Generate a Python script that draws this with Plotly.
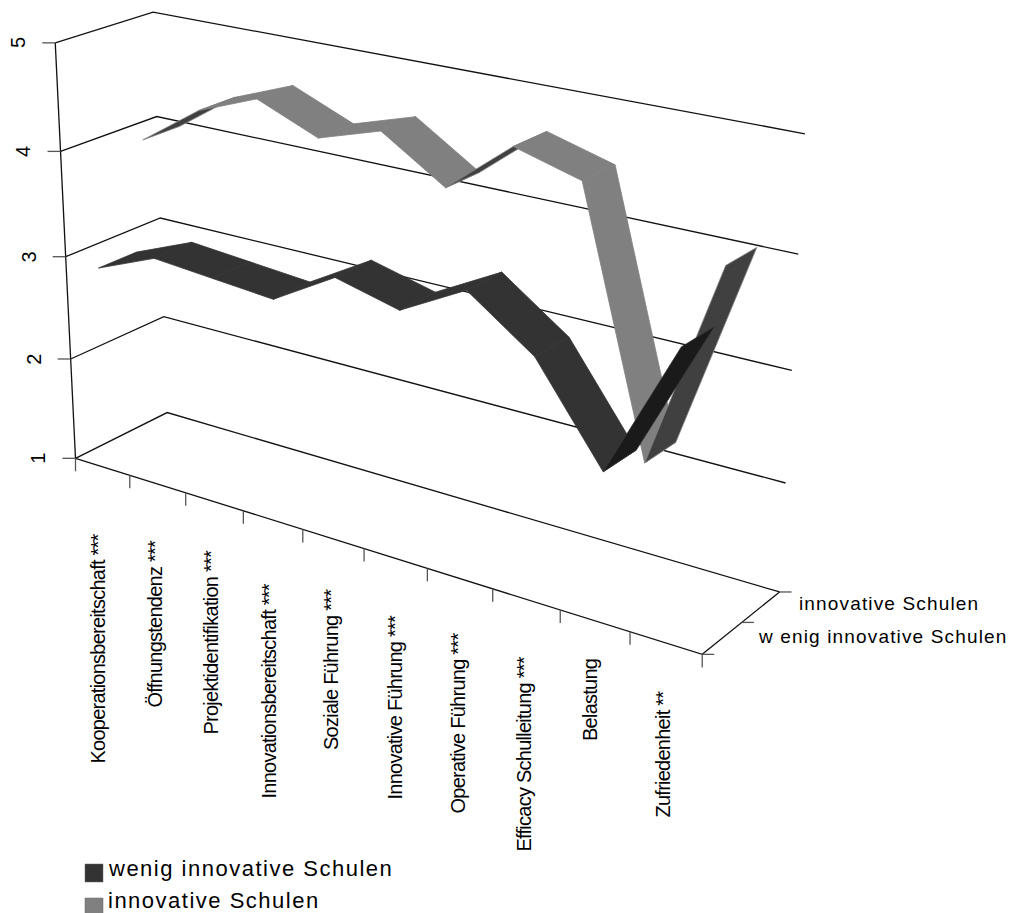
import numpy as np
import plotly.graph_objects as go

# Chart content
categories = ["Kooperationsbereitschaft ***", "Öffnungstendenz ***", "Projektidentifikation ***",
              "Innovationsbereitschaft ***", "Soziale Führung ***", "Innovative Führung ***",
              "Operative Führung ***", "Efficacy Schulleitung ***", "Belastung", "Zufriedenheit **"]
series_names = ["wenig innovative Schulen", "innovative Schulen"]
depth_labels = ["w enig innovative Schulen", "innovative Schulen"]
value_ticks = [1, 2, 3, 4, 5]
wenig_innovativ = [2.94, 3.17, 3.12, 3.07, 3.41, 3.26, 3.58, 3.15, 2.31, 3.54]
innovativ = [3.98, 4.37, 4.59, 4.35, 4.53, 4.15, 4.63, 4.46, 2.14, 4.01]

DARK = "#333333"
DARK_UNDER = "#1a1a1a"
LIGHT = "#808080"
LIGHT_UNDER = "#404040"
FONT = "Liberation Sans, Arial, sans-serif"

# Page placement of the rotated category labels
category_label_x = [97.5, 154.5, 210, 268, 330.5, 394, 457, 523, 590, 662]
category_label_top = [532, 538, 548, 582, 587, 613, 631, 655, 657, 689]

# Perspective camera: box corners (category, depth, value) and where they land on the page
camera_points = [
    (0, 0, 1, 75, 458.7), (10, 0, 1, 701.7, 655), (10, 1, 1, 780, 590.7), (0, 1, 1, 167.7, 412.7),
    (0, 0, 5, 55.7, 42.3), (0, 1, 5, 153.7, 12.3), (10, 1, 5, 805, 133), (10, 1, 2, 786, 483),
    (10, 1, 3, 791.7, 371), (10, 1, 4, 798, 255), (0, 0, 4, 60.7, 151.7), (0, 0, 3, 66, 256.7),
    (0, 0, 2, 70.7, 358.3), (0, 1, 2, 164, 316.7), (0, 1, 3, 160, 218), (0, 1, 4, 155.3, 116.7),
]
A, b = [], []
for x, y, z, u, v in camera_points:
    A.append([x, y, z, 1, 0, 0, 0, 0, -u * x, -u * y, -u * z]); b.append(u)
    A.append([0, 0, 0, 0, x, y, z, 1, -v * x, -v * y, -v * z]); b.append(v)
P = np.append(np.linalg.lstsq(np.array(A), np.array(b), rcond=None)[0], 1).reshape(3, 4)


def proj(x, y, z):
    h = P @ np.array([x, y, z, 1.0])
    return h[0] / h[2], h[1] / h[2]


fig = go.Figure()


def polyline(points, width=1.3, color="#111111"):
    fig.add_trace(go.Scatter(x=[p[0] for p in points], y=[p[1] for p in points], mode="lines",
                             line=dict(color=color, width=width), hoverinfo="skip", showlegend=False))


# Gridlines on the side and back walls
for v in value_ticks:
    polyline([proj(0, 0, v), proj(0, 1, v), proj(10, 1, v)])

# Floor edges and vertical axis
polyline([proj(0, 0, 1), proj(10, 0, 1), proj(10, 1, 1)])
polyline([proj(0, 0, 1), proj(0, 0, 5)])

# Tick marks
for v in value_ticks:
    px, py = proj(0, 0, v)
    polyline([(px - 13, py), (px, py)], color="#555555")
for i in range(11):
    px, py = proj(i, 0, 1)
    polyline([(px, py), (px, py + 13)], color="#555555")
for d in (0, 0.5, 1):
    px, py = proj(10, d, 1)
    polyline([(px, py), (px + 12, py)], color="#555555")


def ribbon(values, y0, y1, color, under):
    for i in range(len(values) - 1):
        x0, x1 = i + 0.5, i + 1.5
        quad = [proj(x0, y0, values[i]), proj(x1, y0, values[i + 1]),
                proj(x1, y1, values[i + 1]), proj(x0, y1, values[i])]
        # Signed screen area tells whether the top or the underside of the band faces the viewer
        area = sum(quad[k][0] * quad[(k + 1) % 4][1] - quad[(k + 1) % 4][0] * quad[k][1] for k in range(4))
        fill = under if area > 0 else color
        xs = [p[0] for p in quad] + [quad[0][0]]
        ys = [p[1] for p in quad] + [quad[0][1]]
        fig.add_trace(go.Scatter(x=xs, y=ys, mode="lines", fill="toself", fillcolor=fill,
                                 line=dict(color=color, width=0.8), hoverinfo="skip", showlegend=False))


ribbon(innovativ, 0.555, 0.945, LIGHT, LIGHT_UNDER)
ribbon(wenig_innovativ, 0.05, 0.445, DARK, DARK_UNDER)


def label(px, py, text, size, angle=0, xanchor="center", yanchor="middle", spacing=0.0):
    fig.add_annotation(x=px, y=py, xref="x", yref="y", showarrow=False, textangle=angle,
                       text=f'<span style="letter-spacing:{spacing}px">{text}</span>',
                       xanchor=xanchor, yanchor=yanchor, font=dict(family=FONT, size=size, color="#000000"))


# Value axis labels
for v in value_ticks:
    px, py = proj(0, 0, v)
    label(px - 37, py, str(v), 20, angle=-90)

# Category labels, hanging below the front floor edge
for name, lx, top in zip(categories, category_label_x, category_label_top):
    label(lx, top, name, 20, angle=-90, yanchor="top", spacing=-0.75)

# Depth axis labels
for ly, right, name in zip((636, 603), (1009, 981), depth_labels):
    label(right, ly, name, 19, xanchor="right", spacing=1.15)

# Legend
for k, (name, color) in enumerate(zip(series_names, (DARK, LIGHT))):
    top = 864 + 34 * k
    fig.add_shape(type="rect", x0=85, x1=103, y0=top, y1=top + 18, xref="x", yref="y",
                  fillcolor=color, line=dict(color="#666666", width=0.5))
    label(106, 868 + 32.5 * k, name, 22, xanchor="left", spacing=1.5)

fig.update_layout(width=1010, height=913, margin=dict(l=0, r=0, t=0, b=0), paper_bgcolor="white",
                  plot_bgcolor="white", showlegend=False,
                  xaxis=dict(visible=False, range=[0, 1010], fixedrange=True),
                  yaxis=dict(visible=False, range=[913, 0], fixedrange=True))
fig.write_html("out.html", config=dict(displayModeBar=False))
